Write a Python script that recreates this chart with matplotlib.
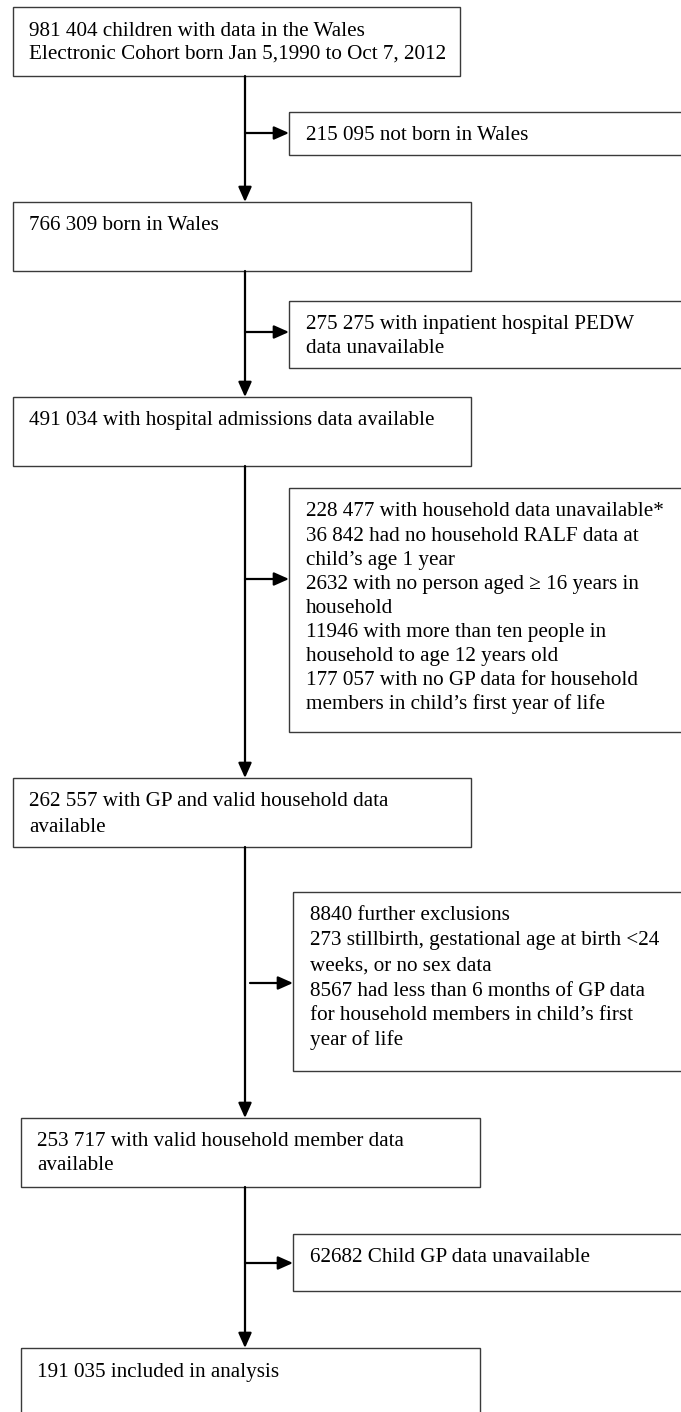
import matplotlib.pyplot as plt
from matplotlib.patches import Rectangle

# box texts of the main flow, top to bottom
main_labels = [
    ["981 404 children with data in the Wales",
     "Electronic Cohort born Jan 5,1990 to Oct 7, 2012"],
    ["766 309 born in Wales"],
    ["491 034 with hospital admissions data available"],
    ["262 557 with GP and valid household data",
     "available"],
    ["253 717 with valid household member data",
     "available"],
    ["191 035 included in analysis"],
]

# exclusion boxes on the right
excl_labels = [
    ["215 095 not born in Wales"],
    ["275 275 with inpatient hospital PEDW",
     "data unavailable"],
    ["228 477 with household data unavailable*",
     "36 842 had no household RALF data at",
     "child\u2019s age 1 year",
     "2632 with no person aged \u2265 16 years in",
     "household",
     "11946 with more than ten people in",
     "household to age 12 years old",
     "177 057 with no GP data for household",
     "members in child\u2019s first year of life"],
    ["8840 further exclusions",
     "273 stillbirth, gestational age at birth <24",
     "weeks, or no sex data",
     "8567 had less than 6 months of GP data",
     "for household members in child\u2019s first",
     "year of life"],
    ["62682 Child GP data unavailable"],
]

# layout in pixels (x0, x1, top, bottom, line spacing)
main_box = [(13, 460, 7, 76, 23.3), (13, 471, 202, 271, 23.3), (13, 471, 397, 466, 23.3),
            (13, 471, 778, 847, 25), (21, 480, 1118, 1187, 23.3), (21, 480, 1348, 1430, 23.3)]
excl_box = [(289, 700, 112, 155, 23.3), (289, 700, 301, 368, 23.3), (289, 700, 488, 732, 24.1),
            (293, 700, 892, 1071, 25), (293, 700, 1234, 1291, 23.3)]
excl_arrow_y = [133, 332, 579, 983, 1263]
excl_arrow_x0 = [245, 245, 245, 250, 245]
spine_x = 245

W, H = 681, 1412
fig = plt.figure(figsize=(W / 100, H / 100), dpi=100)
ax = fig.add_axes([0, 0, 1, 1])
ax.set_xlim(0, W)
ax.set_ylim(H, 0)
ax.axis('off')

font = dict(family='Liberation Serif', fontsize=15.2, color='black')


def draw_box(lines, x0, x1, top, bottom, step, pad):
    ax.add_patch(Rectangle((x0, top), x1 - x0, bottom - top, fill=False,
                           edgecolor='#3a3a3a', linewidth=1.0))
    for i, s in enumerate(lines):
        ax.text(x0 + pad, top + 28.5 + i * step, s, va='baseline', ha='left', **font)


for lines, (x0, x1, t, b, st) in zip(main_labels, main_box):
    draw_box(lines, x0, x1, t, b, st, 16)
for lines, (x0, x1, t, b, st) in zip(excl_labels, excl_box):
    draw_box(lines, x0, x1, t, b, st, 17)

arrow = dict(arrowstyle='-|>,head_length=0.45,head_width=0.2', lw=1.6,
             color='black', mutation_scale=20, shrinkA=0, shrinkB=0)

# vertical connectors between main boxes
for (a, b) in zip(main_box[:-1], main_box[1:]):
    ax.annotate('', xy=(spine_x, b[2]), xytext=(spine_x, a[3]), arrowprops=arrow)

# horizontal arrows into exclusion boxes
for y, x0, box in zip(excl_arrow_y, excl_arrow_x0, excl_box):
    ax.annotate('', xy=(box[0], y), xytext=(x0, y), arrowprops=arrow)

fig.savefig('out.png', dpi=100, facecolor='white')
